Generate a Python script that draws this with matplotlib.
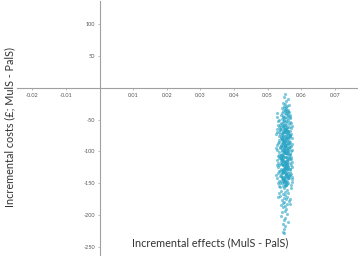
import matplotlib
matplotlib.use("Agg")
import matplotlib.pyplot as plt

# PSA cloud: incremental effects vs incremental costs (MulS - PalS)
effects = [
    # upper tail
    0.0553, 0.0548, 0.0560, 0.0556, 0.0545, 0.0551, 0.0563, 0.0549, 0.0557, 0.0554,
    # -30 .. -60
    0.0542, 0.0549, 0.0555, 0.0561, 0.0552, 0.0547, 0.0558, 0.0564, 0.0544, 0.0551,
    0.0556, 0.0560, 0.0539, 0.0546, 0.0553, 0.0566, 0.0549, 0.0557, 0.0543, 0.0550,
    0.0562, 0.0554, 0.0547, 0.0559, 0.0541, 0.0552, 0.0565, 0.0548, 0.0556, 0.0545,
    0.0553, 0.0561, 0.0550, 0.0558, 0.0544,
    # core
    0.0541, 0.0552, 0.0563, 0.0547, 0.0558, 0.0536, 0.0550, 0.0561, 0.0545, 0.0556,
    0.0549, 0.0538, 0.0560, 0.0554, 0.0543, 0.0566, 0.0551, 0.0546, 0.0557, 0.0533,
    0.0555, 0.0544, 0.0562, 0.0548, 0.0539, 0.0553, 0.0568, 0.0550, 0.0542, 0.0559,
    0.0547, 0.0556, 0.0535, 0.0552, 0.0564, 0.0545, 0.0558, 0.0540, 0.0551, 0.0561,
    0.0544, 0.0555, 0.0566, 0.0549, 0.0537, 0.0559, 0.0551, 0.0542, 0.0563, 0.0548,
    0.0553, 0.0540, 0.0561, 0.0546, 0.0557, 0.0534, 0.0550, 0.0565, 0.0543, 0.0555,
    0.0547, 0.0558, 0.0538, 0.0552, 0.0563, 0.0544, 0.0556, 0.0549, 0.0569, 0.0541,
    0.0556, 0.0545, 0.0551, 0.0562, 0.0539, 0.0548, 0.0559, 0.0553, 0.0542, 0.0566,
    0.0550, 0.0543, 0.0557, 0.0547, 0.0561, 0.0536, 0.0554, 0.0546, 0.0559, 0.0552,
    0.0545, 0.0556, 0.0549, 0.0563, 0.0540, 0.0552, 0.0558, 0.0547, 0.0554, 0.0543,
    0.0553, 0.0546, 0.0560, 0.0541, 0.0550, 0.0557, 0.0544, 0.0555, 0.0548, 0.0562,
    0.0549, 0.0556, 0.0543, 0.0552, 0.0559, 0.0546, 0.0554, 0.0538, 0.0551, 0.0561,
    0.0539, 0.0560, 0.0548, 0.0554, 0.0545, 0.0563, 0.0551, 0.0542, 0.0557, 0.0549,
    0.0552, 0.0543, 0.0558, 0.0536, 0.0550, 0.0565, 0.0547, 0.0555, 0.0541, 0.0561,
    0.0546, 0.0557, 0.0540, 0.0553, 0.0562, 0.0549, 0.0544, 0.0559, 0.0551, 0.0535,
    0.0555, 0.0542, 0.0560, 0.0548, 0.0553, 0.0538, 0.0557, 0.0546, 0.0564, 0.0550,
    0.0550, 0.0547, 0.0556, 0.0544, 0.0559, 0.0553, 0.0541, 0.0558, 0.0548, 0.0554,
    0.0557, 0.0551, 0.0545, 0.0562, 0.0548, 0.0555, 0.0540, 0.0552, 0.0560, 0.0546,
    0.0544, 0.0558, 0.0552, 0.0549, 0.0563, 0.0541, 0.0554, 0.0547, 0.0556, 0.0550,
    0.0553, 0.0546, 0.0561, 0.0550, 0.0543, 0.0557, 0.0548, 0.0559, 0.0545, 0.0552,
    0.0537, 0.0564, 0.0544, 0.0558, 0.0549, 0.0540, 0.0561, 0.0553, 0.0546, 0.0567,
    0.0562, 0.0539, 0.0555, 0.0548, 0.0566, 0.0543, 0.0551, 0.0559, 0.0536, 0.0553,
    0.0545, 0.0567, 0.0538, 0.0556, 0.0550, 0.0563, 0.0542, 0.0557, 0.0548, 0.0565,
    0.0560, 0.0535, 0.0553, 0.0565, 0.0541, 0.0557, 0.0547, 0.0568, 0.0539, 0.0554,
    # cloud edges
    0.0527, 0.0531, 0.0529, 0.0534, 0.0526, 0.0532, 0.0530, 0.0535, 0.0528, 0.0533,
    0.0531, 0.0527, 0.0533, 0.0529, 0.0534, 0.0528, 0.0532, 0.0526, 0.0530, 0.0535,
    0.0529, 0.0534, 0.0526, 0.0531, 0.0528, 0.0533, 0.0527, 0.0530, 0.0535, 0.0532,
    0.0568, 0.0572, 0.0570, 0.0566, 0.0574, 0.0569, 0.0571, 0.0567, 0.0573, 0.0570,
    0.0571, 0.0567, 0.0573, 0.0569, 0.0566, 0.0572, 0.0568, 0.0574, 0.0570, 0.0567,
    0.0566, 0.0570, 0.0568, 0.0573, 0.0571, 0.0567, 0.0574, 0.0569, 0.0572, 0.0568,
    # lower tail
    0.0548, 0.0557, 0.0541, 0.0553, 0.0562, 0.0545, 0.0551, 0.0537, 0.0559, 0.0549,
    0.0555, 0.0543, 0.0564, 0.0550, 0.0546, 0.0558, 0.0539, 0.0552, 0.0547, 0.0556,
    0.0551, 0.0544, 0.0557, 0.0540, 0.0553, 0.0548, 0.0561, 0.0546, 0.0552, 0.0549,
    0.0545, 0.0550,
]
costs = [
    -9, -14, -17, -20, -23, -25, -26, -28, -29, -30,
    -31, -32, -33, -34, -35, -36, -37, -38, -39, -40,
    -41, -42, -43, -44, -45, -46, -47, -48, -49, -50,
    -51, -52, -53, -54, -55, -56, -57, -58, -59, -60,
    -36, -44, -52, -39, -57,
    -62, -65, -61, -67, -63, -66, -64, -68, -60, -65,
    -70, -73, -69, -75, -71, -74, -68, -76, -72, -70,
    -78, -81, -77, -83, -79, -84, -76, -80, -82, -78,
    -86, -89, -85, -91, -87, -90, -84, -92, -88, -86,
    -94, -97, -93, -99, -95, -98, -92, -100, -96, -94,
    -102, -105, -101, -107, -103, -106, -100, -108, -104, -102,
    -110, -113, -109, -115, -111, -114, -108, -116, -112, -110,
    -118, -121, -117, -123, -119, -122, -116, -124, -120, -118,
    -126, -129, -125, -131, -127, -130, -124, -132, -128, -126,
    -134, -137, -133, -139, -135, -138, -132, -140, -136, -134,
    -142, -145, -141, -147, -143, -146, -140, -148, -144, -142,
    -150, -153, -149, -155, -151, -154, -148, -156, -152, -150,
    -64, -72, -80, -66, -75, -83, -69, -78, -62, -86,
    -90, -97, -104, -93, -101, -88, -107, -95, -110, -99,
    -113, -120, -127, -116, -124, -131, -118, -111, -129, -122,
    -135, -142, -138, -146, -133, -150, -140, -144, -137, -148,
    -63, -71, -79, -87, -95, -103, -111, -119, -127, -135,
    -67, -76, -85, -94, -102, -109, -117, -126, -134, -143,
    -74, -82, -91, -98, -106, -114, -123, -130, -139, -147,
    -61, -69, -77, -84, -92, -100, -108, -115, -121, -145,
    -65, -73, -81, -89, -97, -105, -113, -121, -129, -137,
    -68, -77, -86, -95, -104, -112, -120, -128, -138, -146,
    -46, -54, -59, -71, -83, -93, -106, -119, -131, -141,
    -38, -50, -66, -78, -90, -102, -115, -127, -139, -153,
    -45, -58, -70, -82, -95, -107, -118, -130, -142, -155,
    -52, -64, -76, -89, -101, -113, -125, -137, -149, -166,
    -40, -61, -73, -86, -98, -110, -122, -134, -146, -172,
    -48, -60, -72, -85, -97, -109, -121, -133, -144, -158,
    -55, -67, -79, -91, -104, -116, -128, -140, -152, -175,
    -43, -63, -75, -88, -100, -112, -124, -136, -148, -183,
    -158, -160, -162, -163, -165, -167, -168, -170, -171, -173,
    -175, -176, -178, -180, -181, -183, -185, -186, -188, -190,
    -193, -196, -199, -202, -205, -208, -211, -214, -218, -222,
    -226, -229,
]

x_ticks = [-0.02, -0.01, 0.01, 0.02, 0.03, 0.04, 0.05, 0.06, 0.07]
y_ticks = [-250, -200, -150, -100, -50, 50, 100]

plt.rcParams['font.family'] = ['Lato', 'DejaVu Sans']

fig = plt.figure(figsize=(3.58, 2.56), dpi=100)
ax = fig.add_axes([17 / 358, 1 / 256, 340 / 358, 254 / 256])
ax.scatter(effects, costs, s=5, color='#2aa5c5', alpha=0.6, linewidths=0)

ax.set_xlim(-0.0246, 0.0766)
ax.set_ylim(-263, 137)

for side in ['top', 'right']:
    ax.spines[side].set_visible(False)
for side in ['left', 'bottom']:
    ax.spines[side].set_position(('data', 0))
    ax.spines[side].set_color('#a0a0a0')
    ax.spines[side].set_linewidth(0.8)
ax.patch.set_visible(False)

ax.set_xticks(x_ticks)
ax.set_xticklabels([f"{t:.2f}" for t in x_ticks])
ax.set_yticks(y_ticks)
ax.set_yticklabels([str(t) for t in y_ticks])
ax.tick_params(axis='both', labelsize=4, colors='#a0a0a0', labelcolor='#555555',
               length=1.5, width=0.5, direction='out', pad=2)

fig.text(0.028, 0.504, "Incremental costs (£; MulS - PalS)", rotation=90,
         ha='center', va='center', fontsize=7.8, color='#333333')
fig.text(0.587, 0.05, "Incremental effects (MulS - PalS)",
         ha='center', va='center', fontsize=7.8, color='#333333')

fig.savefig("out.png", dpi=100)
